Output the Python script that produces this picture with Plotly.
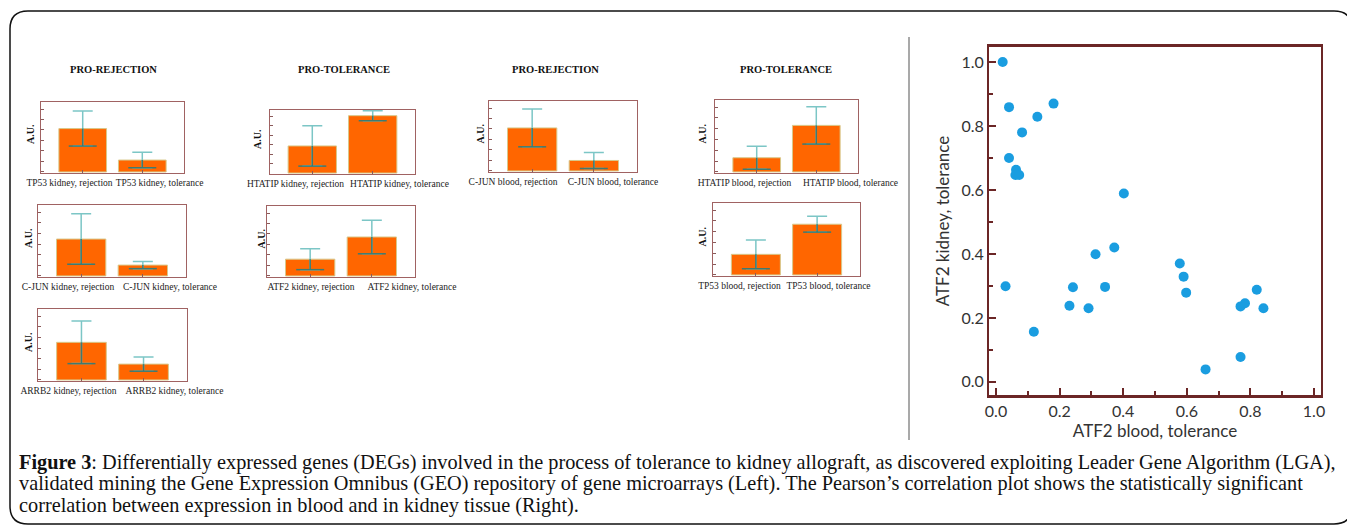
import plotly.graph_objects as go

# the page body adds an 8px margin, so the figure is drawn 8px smaller and shifted
OX, OY = 8, 8
W, H = 1355 - OX, 527 - OY

# ---------------- data ----------------
panel_titles = ["PRO-REJECTION", "PRO-TOLERANCE", "PRO-REJECTION", "PRO-TOLERANCE"]

bar_labels = [
    ["TP53 kidney, rejection", "TP53 kidney, tolerance"],
    ["HTATIP kidney, rejection", "HTATIP kidney, tolerance"],
    ["C-JUN blood, rejection", "C-JUN blood, tolerance"],
    ["HTATIP blood, rejection", "HTATIP blood, tolerance"],
    ["C-JUN kidney, rejection", "C-JUN kidney, tolerance"],
    ["ATF2 kidney, rejection", "ATF2 kidney, tolerance"],
    ["TP53 blood, rejection", "TP53 blood, tolerance"],
    ["ARRB2 kidney, rejection", "ARRB2 kidney, tolerance"],
]
bar_means = [
    [0.62, 0.17], [0.43, 0.91], [0.615, 0.15], [0.197, 0.647],
    [0.52, 0.153], [0.24, 0.557], [0.286, 0.705], [0.53, 0.223],
]
bar_errs = [
    [0.25, 0.11], [0.32, 0.08], [0.27, 0.115], [0.16, 0.26],
    [0.355, 0.05], [0.15, 0.24], [0.20, 0.11], [0.30, 0.10],
]

atf2_blood = [0.021, 0.041, 0.181, 0.130, 0.082, 0.041, 0.063, 0.061, 0.073,
              0.402, 0.372, 0.313, 0.030, 0.242, 0.343, 0.231, 0.291, 0.119,
              0.578, 0.590, 0.598, 0.820, 0.769, 0.783, 0.841, 0.769, 0.659]
atf2_kidney = [1.000, 0.859, 0.870, 0.829, 0.780, 0.700, 0.663, 0.647, 0.647,
               0.589, 0.420, 0.399, 0.299, 0.296, 0.297, 0.238, 0.230, 0.157,
               0.370, 0.329, 0.279, 0.288, 0.236, 0.246, 0.230, 0.078, 0.039]

caption_lines = [
    "<b>Figure 3</b>: Differentially expressed genes (DEGs) involved in the process of tolerance to kidney allograft, as discovered exploiting Leader Gene Algorithm (LGA),",
    "validated mining the Gene Expression Omnibus (GEO) repository of gene microarrays (Left). The Pearson’s correlation plot shows the statistically significant",
    "correlation between expression in blood and in kidney tissue (Right).",
]

# ---------------- layout geometry (window pixels) ----------------
boxes = [
    (41, 184, 102, 173), (270, 415, 110, 174), (489, 637, 101, 172), (715, 858, 100, 173),
    (38, 186, 205, 277), (267, 415, 206, 277), (713, 860, 203, 276), (38, 187, 309, 381),
]
label_offs = [(-43, 47), (-47, 57), (-50, 50), (-42, 64), (-44, 58), (-30, 71), (-47, 42), (-44, 62)]
au_dx = [-10.5, -13, -9, -13, -10, -6, -11, -10]
title_pos = [(113, 70), (344, 70), (555, 70), (786, 70)]

def px(x):
    return (x - OX) / W

def py(y):
    return 1 - (y - OY) / H

ORANGE = "#ff6600"
BAR_EDGE = "#d8c88a"
LIGHT = "#7cc6c6"
DARK = "#3f7a70"
FRAME = "#a06262"
SERIF = "Liberation Serif, Times New Roman, serif"
SANS = "Lato, Open Sans, sans-serif"
MAROON = "#6b2626"

fig = go.Figure()
layout = dict(
    width=W, height=H, margin=dict(l=0, r=0, t=0, b=0, autoexpand=False),
    paper_bgcolor="white", plot_bgcolor="white", showlegend=False,
    bargap=0.2,
)
annotations = []

XR = [-0.7, 1.7]
for i in range(8):
    k = i + 1
    xa = "x" if k == 1 else f"x{k}"
    ya = "y" if k == 1 else f"y{k}"
    l, r, t, b = boxes[i]
    m = bar_means[i]
    e = bar_errs[i]
    fig.add_trace(go.Bar(
        x=[0, 1], y=m, xaxis=xa, yaxis=ya, width=0.8,
        marker=dict(color=ORANGE, line=dict(color=BAR_EDGE, width=1)),
        error_y=dict(type="data", array=e, color=LIGHT, thickness=1.5, width=10),
        hoverinfo="skip",
    ))
    low = [m[j] - e[j] for j in range(2)]
    fig.add_trace(go.Scatter(
        x=[0, 1], y=low, xaxis=xa, yaxis=ya, mode="markers",
        marker=dict(symbol="line-ew", size=20, color=DARK, line=dict(color=DARK, width=1.5)),
        error_y=dict(type="data", symmetric=False, array=e, arrayminus=[0, 0],
                     color=DARK, thickness=1.5, width=0),
        hoverinfo="skip",
    ))
    ppu = (r - l) / (XR[1] - XR[0])
    tv = [0.5 + label_offs[i][0] / ppu, 0.5 + label_offs[i][1] / ppu]
    xkey = "xaxis" if k == 1 else f"xaxis{k}"
    ykey = "yaxis" if k == 1 else f"yaxis{k}"
    layout[xkey] = dict(
        domain=[px(l), px(r)], anchor=ya, range=XR, showgrid=False, zeroline=False,
        showline=True, mirror=True, linecolor=FRAME, linewidth=1,
        tickvals=tv, ticktext=bar_labels[i], ticks="", ticklabelstandoff=1, tickangle=0,
        tickfont=dict(family=SERIF, size=9.5, color="#222"), automargin=False,
        minor=dict(tickvals=[0, 1], ticks="inside", ticklen=3, tickcolor="#8a5a5a"),
        fixedrange=True,
    )
    layout[ykey] = dict(
        domain=[py(b), py(t)], anchor=xa, range=[-0.015, 1.0], showgrid=False, zeroline=False,
        showline=True, mirror=True, linecolor=FRAME, linewidth=1, automargin=False,
        showticklabels=False, ticks="inside", ticklen=3, tickcolor="#8a5a5a",
        tick0=0, dtick=0.15, fixedrange=True,
    )
    annotations.append(dict(
        text="<b>A.U.</b>", xref="paper", yref="paper", x=px(l + au_dx[i]), y=py((t + b) / 2 - 3),
        textangle=-90, showarrow=False, xanchor="center", yanchor="middle",
        font=dict(family=SERIF, size=10, color="#111"),
    ))

for (tx, ty), ttl in zip(title_pos, panel_titles):
    annotations.append(dict(
        text=f"<b>{ttl}</b>", xref="paper", yref="paper", x=px(tx), y=py(ty),
        showarrow=False, xanchor="center", yanchor="middle",
        font=dict(family=SERIF, size=10.5, color="#111"),
    ))

# scatter plot
fig.add_trace(go.Scatter(
    x=atf2_blood, y=atf2_kidney, xaxis="x9", yaxis="y9", mode="markers",
    marker=dict(color="#1a9de0", size=10), hoverinfo="skip",
))
layout["xaxis9"] = dict(
    domain=[px(989), px(1321)], anchor="y9", range=[-0.022, 1.022], automargin=False,
    showgrid=False, zeroline=False, showline=True, mirror=True, linecolor=MAROON, linewidth=2.5,
    tickvals=[0, 0.2, 0.4, 0.6, 0.8, 1.0], tickformat=".1f", ticks="inside", ticklen=7, tickwidth=2,
    tickcolor=MAROON, minor=dict(dtick=0.1, ticks="inside", ticklen=4, tickwidth=1.5, tickcolor=MAROON),
    tickfont=dict(family=SANS, size=16, color="#333"),
    title=dict(text="ATF2 blood, tolerance", font=dict(family=SANS, size=17, color="#333"), standoff=4),
    fixedrange=True,
)
layout["yaxis9"] = dict(
    domain=[py(395), py(47)], anchor="x9", range=[-0.041, 1.047], automargin=False,
    showgrid=False, zeroline=False, showline=True, mirror=True, linecolor=MAROON, linewidth=2,
    tickvals=[0, 0.2, 0.4, 0.6, 0.8, 1.0], tickformat=".1f", ticks="inside", ticklen=7, tickwidth=2,
    tickcolor=MAROON, minor=dict(dtick=0.1, ticks="inside", ticklen=4, tickwidth=1.5, tickcolor=MAROON),
    tickfont=dict(family=SANS, size=16, color="#333"),
    title=dict(text="ATF2 kidney, tolerance", font=dict(family=SANS, size=17, color="#333"), standoff=8),
    fixedrange=True,
)

# caption
for yy, line in zip([462, 483, 505], caption_lines):
    annotations.append(dict(
        text=line, xref="paper", yref="paper", x=px(17), y=py(yy),
        showarrow=False, xanchor="left", yanchor="middle", align="left",
        font=dict(family=SERIF, size=20.3, color="#111"),
    ))

# outer rounded frame + divider
L, R, T, B, rr = 10, 1352, 11, 524, 18
path = (
    f"M {px(L + rr)},{py(T)} L {px(R - rr)},{py(T)} Q {px(R)},{py(T)} {px(R)},{py(T + rr)} "
    f"L {px(R)},{py(B - rr)} Q {px(R)},{py(B)} {px(R - rr)},{py(B)} "
    f"L {px(L + rr)},{py(B)} Q {px(L)},{py(B)} {px(L)},{py(B - rr)} "
    f"L {px(L)},{py(T + rr)} Q {px(L)},{py(T)} {px(L + rr)},{py(T)} Z"
)
shapes = [
    dict(type="path", xref="paper", yref="paper", path=path, line=dict(color="#111", width=1.5)),
    dict(type="line", xref="paper", yref="paper", x0=px(909), x1=px(909), y0=py(37), y1=py(440),
         line=dict(color="#8c8c8c", width=1.5)),
]

layout["annotations"] = annotations
layout["shapes"] = shapes
fig.update_layout(**layout)
fig.write_html("out.html")
